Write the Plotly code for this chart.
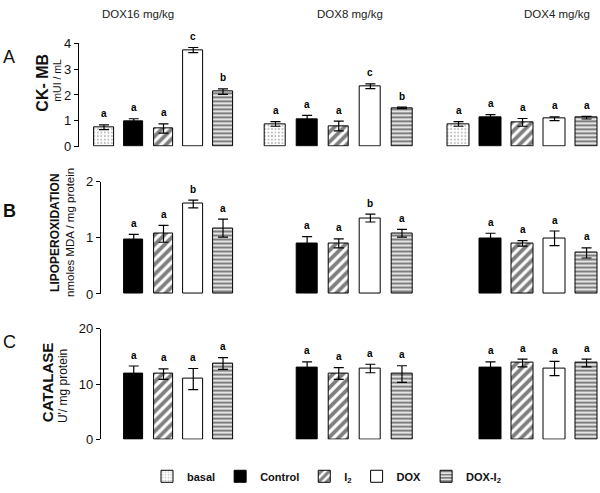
import plotly.graph_objects as go

# ---------------- data ----------------
treatments = ["basal", "Control", "I<sub>2</sub>", "DOX", "DOX-I<sub>2</sub>"]
groups = ["DOX16 mg/kg", "DOX8 mg/kg", "DOX4 mg/kg"]

# Panel A: CK-MB (mUI / mL)
ckmb_dox16 = [0.75, 0.99, 0.70, 3.74, 2.13]
ckmb_dox8 = [0.88, 1.06, 0.80, 2.34, 1.50]
ckmb_dox4 = [0.88, 1.13, 0.94, 1.08, 1.12]
ckmb_err16 = [0.09, 0.09, 0.18, 0.10, 0.11]
ckmb_err8 = [0.09, 0.15, 0.19, 0.09, 0.03]
ckmb_err4 = [0.09, 0.11, 0.15, 0.07, 0.05]
ckmb_sig16 = ["a", "a", "a", "c", "b"]
ckmb_sig8 = ["a", "a", "a", "c", "b"]
ckmb_sig4 = ["a", "a", "a", "a", "a"]

# Panel B: lipoperoxidation (nmoles MDA / mg protein)
lipo_dox16 = [None, 0.97, 1.07, 1.60, 1.17]
lipo_dox8 = [None, 0.90, 0.90, 1.35, 1.08]
lipo_dox4 = [None, 0.99, 0.90, 0.99, 0.73]
lipo_err16 = [None, 0.09, 0.15, 0.07, 0.16]
lipo_err8 = [None, 0.12, 0.08, 0.07, 0.07]
lipo_err4 = [None, 0.09, 0.05, 0.13, 0.09]
lipo_sig16 = [None, "a", "a", "b", "a"]
lipo_sig8 = [None, "a", "a", "b", "a"]
lipo_sig4 = [None, "a", "a", "a", "a"]

# Panel C: catalase (U'/ mg protein)
cat_dox16 = [None, 11.8, 11.8, 10.9, 13.7]
cat_dox8 = [None, 12.9, 11.9, 12.8, 11.8]
cat_dox4 = [None, 12.9, 13.8, 12.8, 13.8]
cat_err16 = [None, 1.45, 0.95, 1.9, 1.05]
cat_err8 = [None, 1.1, 1.05, 0.77, 1.5]
cat_err4 = [None, 1.1, 0.7, 1.3, 0.7]
cat_sig16 = [None, "a", "a", "a", "a"]
cat_sig8 = [None, "a", "a", "a", "a"]
cat_sig4 = [None, "a", "a", "a", "a"]

# ---------------- styling / layout ----------------
W, H = 600, 493
FONT = "Arial, 'Liberation Sans', sans-serif"


def fx(px):
    return px / W


def fy(py):
    return 1 - py / H


styles = [
    dict(color="white", pattern=dict(shape=".", fgcolor="#777", bgcolor="white", size=3.5, solidity=0.25)),
    dict(color="black"),
    dict(color="white", pattern=dict(shape="/", fgcolor="black", bgcolor="white", size=7, solidity=0.55)),
    dict(color="white"),
    dict(color="white", pattern=dict(shape="-", fgcolor="black", bgcolor="white", size=4, solidity=0.6)),
]

rows = [
    dict(vals=[ckmb_dox16, ckmb_dox8, ckmb_dox4], errs=[ckmb_err16, ckmb_err8, ckmb_err4],
         sigs=[ckmb_sig16, ckmb_sig8, ckmb_sig4], rng=[0, 4], ticks=[0, 1, 2, 3, 4],
         ypx=(144, 37.5), axis_px=78),
    dict(vals=[lipo_dox16, lipo_dox8, lipo_dox4], errs=[lipo_err16, lipo_err8, lipo_err4],
         sigs=[lipo_sig16, lipo_sig8, lipo_sig4], rng=[0, 2], ticks=[0, 1, 2],
         ypx=(296, 180), axis_px=100),
    dict(vals=[cat_dox16, cat_dox8, cat_dox4], errs=[cat_err16, cat_err8, cat_err4],
         sigs=[cat_sig16, cat_sig8, cat_sig4], rng=[0, 20], ticks=[0, 10, 20],
         ypx=(446, 331.7), axis_px=100),
]

# pixel domains of the three groups
group_dom_px = [(89.1, 237.9), (259.7, 417.8), (442.5, 600)]
group_rng = [[-0.5, 4.5], [-0.5, 4.5], [-0.5, 4.42]]

fig = go.Figure()
annotations = []
layout = {}
legend_done = set()

for r, row in enumerate(rows):
    yname = "y" if r == 0 else f"y{r + 1}"
    ykey = "yaxis" if r == 0 else f"yaxis{r + 1}"
    layout[ykey] = dict(
        domain=[fy(row["ypx"][0]), fy(row["ypx"][1])],
        range=row["rng"], tickvals=row["ticks"],
        anchor="free", position=fx(row["axis_px"]),
        showline=True, linecolor="black", linewidth=1.3,
        ticks="outside", ticklen=4, tickwidth=1.3, tickcolor="black",
        showgrid=False, zeroline=False,
        tickfont=dict(family=FONT, size=13, color="#111"),
    )
    for g in range(3):
        n = r * 3 + g + 1
        xname = "x" if n == 1 else f"x{n}"
        xkey = "xaxis" if n == 1 else f"xaxis{n}"
        d0, d1 = group_dom_px[g]
        layout[xkey] = dict(domain=[fx(d0), fx(d1)], range=group_rng[g], visible=False,
                            anchor=yname, fixedrange=True)
        vals, errs, sigs = row["vals"][g], row["errs"][g], row["sigs"][g]
        for t in range(5):
            if vals[t] is None:
                continue
            st = styles[t]
            marker = dict(color=st["color"], line=dict(color="black", width=1))
            if "pattern" in st:
                marker["pattern"] = st["pattern"]
            show = t not in legend_done
            legend_done.add(t)
            fig.add_trace(go.Bar(
                x=[t], y=[vals[t]], width=0.66, name=treatments[t],
                legendgroup=treatments[t], showlegend=show,
                marker=marker, xaxis=xname, yaxis=yname,
                error_y=dict(type="data", array=[errs[t]], color="black", thickness=1.2, width=5),
            ))
            annotations.append(dict(
                x=t, y=vals[t] + errs[t], xref=xname, yref=yname, text=sigs[t],
                showarrow=False, yshift=11, yanchor="middle",
                font=dict(family=FONT, size=10, color="black", weight="bold"),
            ))

# group titles
for title, cx in zip(groups, [138, 350, 557]):
    annotations.append(dict(x=fx(cx), y=fy(7), xref="paper", yref="paper", text=title,
                            showarrow=False, xanchor="center", yanchor="middle",
                            font=dict(family=FONT, size=11.5, color="#222")))

# panel letters
for letter, (cx, cy), bold in zip(["A", "B", "C"], [(9, 52), (9, 210), (9, 345)], [False, True, False]):
    annotations.append(dict(x=fx(cx), y=fy(cy), xref="paper", yref="paper", text=letter,
                            showarrow=False, xanchor="center", yanchor="middle",
                            font=dict(family=FONT, size=18, color="#111",
                                      weight="bold" if bold else "normal")))

# y-axis titles
ytitles = [
    ("CK- MB", 43, 78, 16, True),
    ("mUI / mL", 57, 76, 10.5, False),
    ("LIPOPEROXIDATION", 55, 233, 12, True),
    ("nmoles MDA / mg protein", 70, 233, 11.5, False),
    ("CATALASE", 47, 388, 15, True),
    ("U'/ mg protein", 63, 391, 12, False),
]
for text, cx, cy, size, bold in ytitles:
    annotations.append(dict(x=fx(cx), y=fy(cy), xref="paper", yref="paper", text=text,
                            showarrow=False, textangle=-90, xanchor="center", yanchor="middle",
                            font=dict(family=FONT, size=size, color="#111",
                                      weight="bold" if bold else "normal")))

fig.update_layout(
    width=W, height=H,
    margin=dict(l=0, r=0, t=0, b=0),
    paper_bgcolor="white", plot_bgcolor="rgba(0,0,0,0)",
    barmode="overlay", bargap=0,
    showlegend=True,
    legend=dict(orientation="h", x=fx(147), y=fy(484), xanchor="left", yanchor="middle",
                itemwidth=30,
                font=dict(family=FONT, size=11, color="#111", weight="bold"),
                bgcolor="rgba(0,0,0,0)", tracegroupgap=0),
    annotations=annotations,
    **layout,
)

fig.write_html("out.html", config={"displayModeBar": False},
               post_script="document.body.style.margin='0';document.body.style.overflow='hidden';")
